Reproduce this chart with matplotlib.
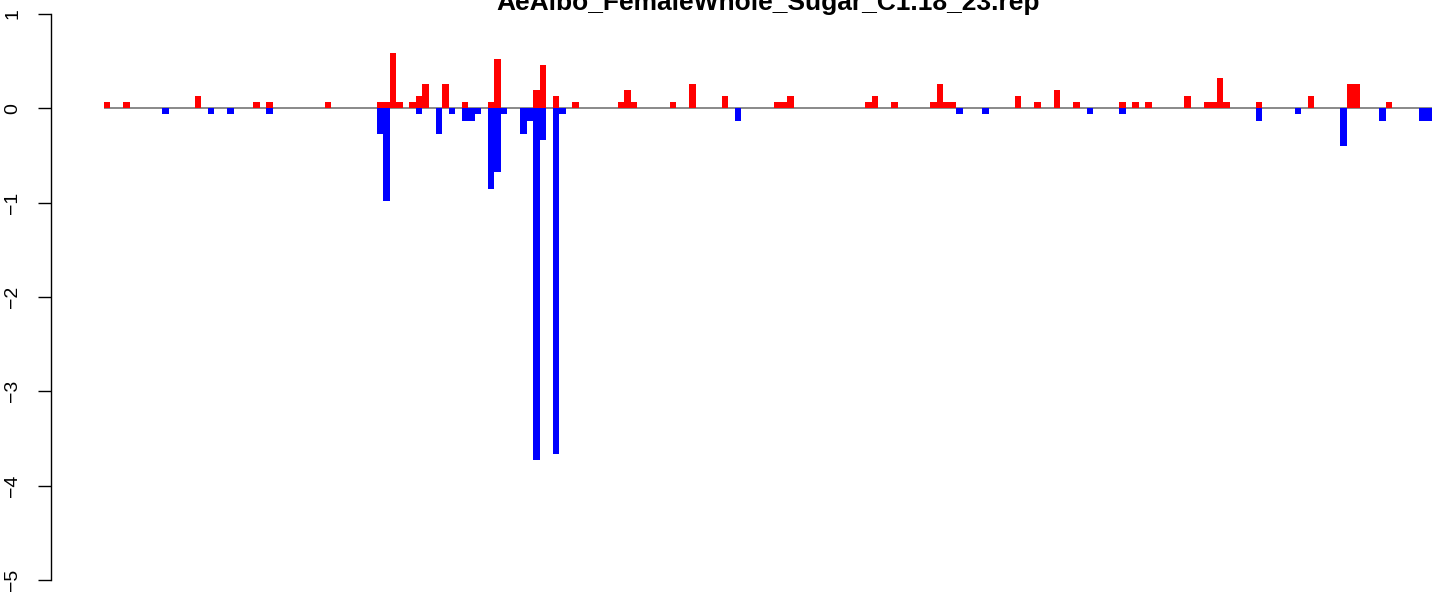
import matplotlib
matplotlib.use("Agg")
import matplotlib.pyplot as plt

# bin index and value of the positive (red) and negative (blue) bars
red_bins = [0, 3, 14, 23, 25, 34, 42, 43, 44, 45, 47, 48, 49, 52, 55, 59, 60,
            66, 67, 69, 72, 79, 80, 81, 87, 90, 95, 103, 104, 105, 117, 118,
            121, 127, 128, 129, 130, 140, 143, 146, 149, 156, 158, 160, 166,
            169, 170, 171, 172, 177, 185, 191, 192, 197]
red_vals = [0.065, 0.065, 0.13, 0.065, 0.065, 0.065, 0.065, 0.065, 0.59, 0.065,
            0.065, 0.13, 0.26, 0.26, 0.065, 0.065, 0.52, 0.195, 0.46, 0.13,
            0.065, 0.065, 0.195, 0.065, 0.065, 0.26, 0.13, 0.065, 0.065, 0.13,
            0.065, 0.13, 0.065, 0.065, 0.26, 0.065, 0.065, 0.13, 0.065, 0.195,
            0.065, 0.065, 0.065, 0.065, 0.13, 0.065, 0.065, 0.32, 0.065, 0.065,
            0.13, 0.26, 0.26, 0.065]

blue_bins = [9, 16, 19, 25, 42, 43, 48, 51, 53, 55, 56, 57, 59, 60, 61, 64, 65,
             66, 67, 69, 70, 97, 131, 135, 151, 156, 177, 183, 190, 196, 202, 203]
blue_vals = [-0.065, -0.065, -0.065, -0.065, -0.27, -0.98, -0.065, -0.27, -0.065,
             -0.13, -0.13, -0.065, -0.86, -0.67, -0.065, -0.27, -0.13, -3.73,
             -0.34, -3.67, -0.065, -0.13, -0.065, -0.065, -0.065, -0.065, -0.13,
             -0.065, -0.40, -0.13, -0.13, -0.13]

n_bins = 204
title = "AeAlbo_FemaleWhole_Sugar_C1.18_23.rep"
y_ticks = [1, 0, -1, -2, -3, -4, -5]

plt.rcParams['font.family'] = ['Liberation Sans', 'DejaVu Sans']

fig = plt.figure(figsize=(14.41, 5.94), dpi=100)
ax = fig.add_axes([0, 0, 1, 1])

# baseline
ax.hlines(0, 0, n_bins, color='gray', linewidth=1.3, zorder=1)

ax.bar(red_bins, red_vals, width=1, align='edge', color='red', linewidth=0, zorder=2)
ax.bar(blue_bins, blue_vals, width=1, align='edge', color='blue', linewidth=0, zorder=3)

ax.set_xlim(-103.5 / 6.51, (1441 - 103.5) / 6.51)
ax.set_ylim((108.3 - 594) / 94.33, 108.3 / 94.33)

for s in ['top', 'right', 'bottom']:
    ax.spines[s].set_visible(False)
ax.spines['left'].set_position(('data', (51 - 103.5) / 6.51))
ax.spines['left'].set_bounds(-5, 1)
ax.spines['left'].set_linewidth(1.0)
ax.set_xticks([])
ax.set_yticks(y_ticks)
ax.set_yticklabels([str(t).replace('-', '\u2212') for t in y_ticks],
                   rotation=90, va='center', fontsize=14)
ax.tick_params(axis='y', length=9.6, width=1.0, pad=12)

fig.text(768.5 / 1441, 1 - 10 / 594, title, ha='center', va='baseline',
         fontsize=19, fontweight='bold')

fig.savefig('out.png', dpi=100)
